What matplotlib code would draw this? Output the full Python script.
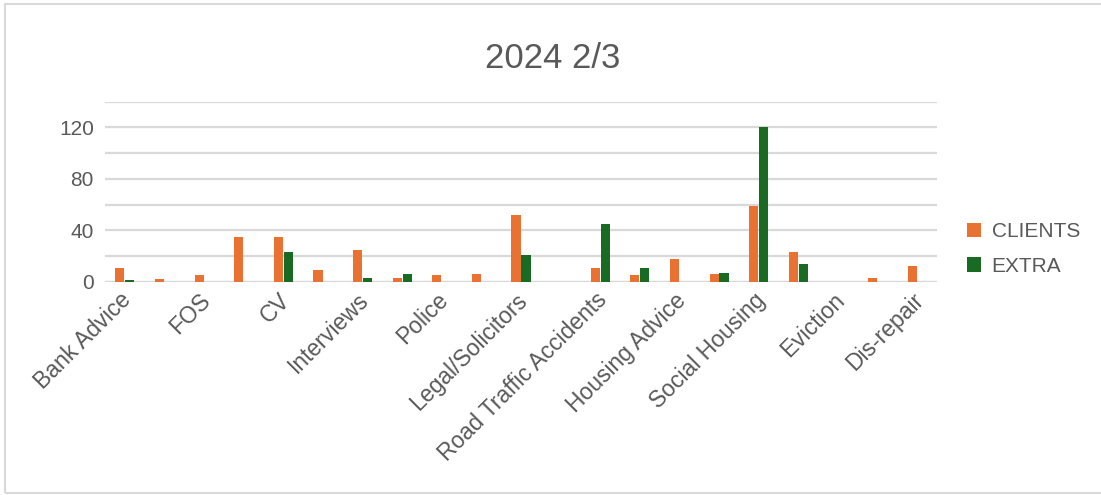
import matplotlib
matplotlib.use("Agg")
import matplotlib.pyplot as plt
import matplotlib.transforms as mtransforms
import numpy as np
from matplotlib.patches import Rectangle

categories = ["Bank Advice", "", "FOS", "", "CV", "", "Interviews", "", "Police", "",
              "Legal/Solicitors", "", "Road Traffic Accidents", "", "Housing Advice", "",
              "Social Housing", "", "Eviction", "", "Dis-repair"]
clients = [11, 2, 5, 35, 35, 9, 25, 3, 5, 6, 52, 0, 11, 5, 18, 6, 59, 23, 0, 3, 12]
extra = [1, 0, 0, 0, 23, 0, 3, 6, 0, 0, 21, 0, 45, 11, 0, 7, 120, 14, 0, 0, 0]
series_names = ["CLIENTS", "EXTRA"]
title = "2024 2/3"

ORANGE = "#E97132"
GREEN = "#196B24"
TEXT = "#595959"
GRID = "#D9D9D9"

plt.rcParams['font.family'] = ['Liberation Sans', 'DejaVu Sans']

fig = plt.figure(figsize=(11.01, 4.95), dpi=100)
W, H = 1101, 495
ax = fig.add_axes([105 / W, (H - 281.7) / H, (937 - 105) / W, (281.7 - 101.7) / H])

x = np.arange(len(categories))
bw = 0.23
ax.bar(x - 0.125, clients, width=bw, color=ORANGE, label=series_names[0], zorder=3)
ax.bar(x + 0.125, extra, width=bw, color=GREEN, label=series_names[1], zorder=3)

ax.set_xlim(-0.5, len(categories) - 0.5)
ax.set_ylim(0, 140)
ax.set_yticks([0, 40, 80, 120])
ax.set_yticks(np.arange(0, 141, 20), minor=True)
ax.grid(axis='y', which='both', color=GRID, lw=1.6, zorder=0)
ax.tick_params(axis='y', which='both', length=0, labelsize=15, labelcolor=TEXT, pad=8)
ax.tick_params(axis='x', length=0, labelsize=16.5, labelcolor=TEXT, pad=5)
ax.set_xticks(x)
ax.set_xticklabels(categories, rotation=45, ha='right', rotation_mode='anchor')
offset = mtransforms.ScaledTranslation(-5 / 100, 0, fig.dpi_scale_trans)
for lbl in ax.get_xticklabels():
    lbl.set_transform(lbl.get_transform() + offset)
for s in ax.spines.values():
    s.set_visible(False)
ax.axhline(0, color=GRID, lw=1.6, zorder=2)

fig.text(553 / W, 1 - 59 / H, title, ha='center', va='center', fontsize=25, color=TEXT)

leg = fig.legend(loc='center left', bbox_to_anchor=(948 / W, 1 - 249 / H), frameon=False,
                 fontsize=15, handlelength=0.7, handleheight=0.7, handletextpad=0.5,
                 labelspacing=0.75, labelcolor=TEXT)

fig.patches.append(Rectangle((5 / W, 1 - 493 / H), 1.1, (493 - 4) / H, transform=fig.transFigure,
                             fill=False, edgecolor=GRID, lw=1.5))

fig.savefig("out.png", dpi=100)
